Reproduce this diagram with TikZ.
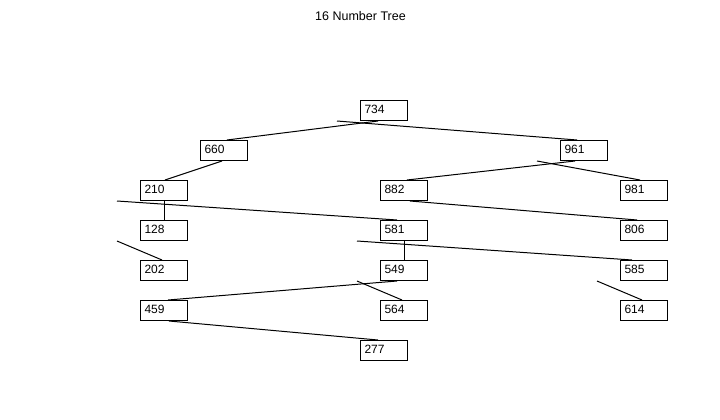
\documentclass[tikz,border=0pt]{standalone}
\usepackage{fontspec}
\setmainfont{Liberation Sans}
\usetikzlibrary{calc}
\tikzset{
  numbox/.style={draw, line width=1pt, minimum width=47pt, minimum height=20pt,
    inner xsep=4pt, inner ysep=0pt, anchor=north west, text width=39pt, align=left,
    font=\fontsize{12}{14}\selectfont, text height=8.6pt, text depth=3.4pt},
  edge/.style={line width=1pt},
  titletext/.style={font=\fontsize{12.5}{15}\selectfont, anchor=base, inner sep=0pt}
}
\begin{document}
\begin{tikzpicture}[x=1pt,y=-1pt]
\useasboundingbox[fill=white] (0,0) rectangle (720,420);
\node[titletext] (title) at (360.5,20.5) {16 Number Tree};
\node[numbox] (n734) at (360,100) {734};
\node[numbox] (n660) at (200,140) {660};
\node[numbox] (n961) at (560,140) {961};
\node[numbox] (n210) at (140,180) {210};
\node[numbox] (n882) at (380,180) {882};
\node[numbox] (n981) at (620,180) {981};
\node[numbox] (n128) at (140,220) {128};
\node[numbox] (n581) at (380,220) {581};
\node[numbox] (n806) at (620,220) {806};
\node[numbox] (n202) at (140,260) {202};
\node[numbox] (n549) at (380,260) {549};
\node[numbox] (n585) at (620,260) {585};
\node[numbox] (n459) at (140,300) {459};
\node[numbox] (n564) at (380,300) {564};
\node[numbox] (n614) at (620,300) {614};
\node[numbox] (n277) at (360,340) {277};
\draw[edge] ($(n734.south west)+(18,0)$) -- ($(n660.north west)+(27,0)$);
\draw[edge] ($(n734.south west)+(-23,0)$) -- ($(n961.north west)+(17,0)$);
\draw[edge] ($(n660.south west)+(22,0)$) -- ($(n210.north west)+(25,0)$);
\draw[edge] ($(n961.south west)+(15,0)$) -- ($(n882.north west)+(27,0)$);
\draw[edge] ($(n961.south west)+(-23,0)$) -- ($(n981.north west)+(20,0)$);
\draw[edge] (n210.south) -- (n128.north);
\draw[edge] ($(n210.south west)+(-23,0)$) -- ($(n581.north west)+(17,0)$);
\draw[edge] ($(n882.south west)+(30,0)$) -- ($(n806.north west)+(17,0)$);
\draw[edge] ($(n128.south west)+(-23,0)$) -- ($(n202.north west)+(22,0)$);
\draw[edge] (n581.south) -- (n549.north);
\draw[edge] ($(n581.south west)+(-23,0)$) -- ($(n585.north west)+(12,0)$);
\draw[edge] ($(n549.south west)+(17,0)$) -- ($(n459.north west)+(28,0)$);
\draw[edge] ($(n549.south west)+(-23,0)$) -- ($(n564.north west)+(22,0)$);
\draw[edge] ($(n585.south west)+(-23,0)$) -- ($(n614.north west)+(22,0)$);
\draw[edge] ($(n459.south west)+(29,0)$) -- ($(n277.north west)+(18,0)$);
\end{tikzpicture}
\end{document}
